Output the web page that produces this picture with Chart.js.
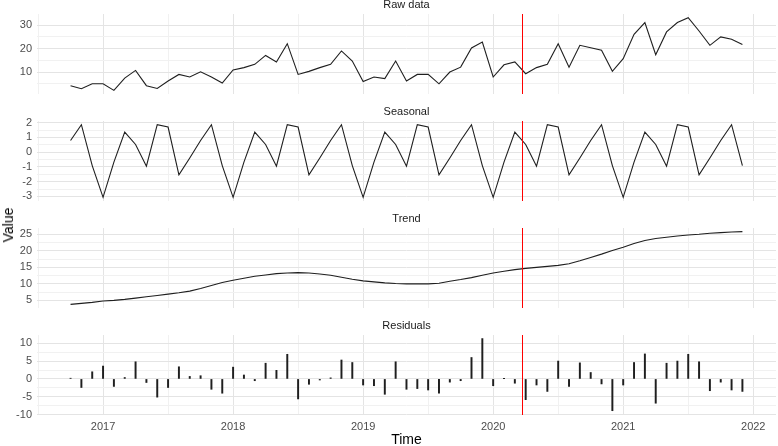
<!DOCTYPE html>
<html>
<head>
<meta charset="utf-8">
<script src="https://cdn.jsdelivr.net/npm/chart.js@4/dist/chart.umd.min.js"></script>
<style>
  html, body { margin: 0; padding: 0; background: #fff; overflow: hidden; width: 778px; height: 446px; }
  .panel { position: absolute; left: 0; width: 778px; }
  #ylab { position: absolute; left: 8px; top: 225px; transform: translate(-50%, -50%) rotate(-90deg);
          font: 14px "Liberation Sans", Arial, sans-serif; color: #000; white-space: nowrap; }
</style>
</head>
<body>
<div class="panel" style="top:-2px;height:96px"><canvas id="c1"></canvas></div>
<div class="panel" style="top:105px;height:96px"><canvas id="c2"></canvas></div>
<div class="panel" style="top:212px;height:96px"><canvas id="c3"></canvas></div>
<div class="panel" style="top:319px;height:129.4px"><canvas id="c4"></canvas></div>
<div id="ylab">Value</div>
<script>
// ---- Data (monthly, Oct 2016 .. Dec 2021) ----
const startYear = 2016;
const startMonth = 10;
const rawData = [4.2, 2.9, 5.0, 5.0, 2.2, 7.4, 10.7, 4.2, 3.0, 6.2, 9.0, 7.9,
  10.1, 7.9, 5.3, 10.9, 11.9, 13.3, 17.1, 14.3, 22.1, 9.0, 10.3, 11.9,
  13.3, 19.0, 14.7, 6.0, 7.9, 7.2, 14.7, 6.2, 9.0, 9.0, 5.0, 10.0,
  12.1, 20.3, 22.8, 7.9, 13.1, 14.3, 9.3, 11.9, 13.3, 22.1, 12.1, 21.4,
  20.4, 19.3, 10.3, 15.7, 26.1, 31.1, 17.4, 27.1, 31.1, 33.2, 27.5, 21.4,
  25.0, 24.0, 21.7];
const seasonalData = [0.79, 1.86, -0.91, -3.06, -0.68, 1.36, 0.52, -0.95, 1.86, 1.70, -1.54, -0.40,
  0.79, 1.86, -0.91, -3.06, -0.68, 1.36, 0.52, -0.95, 1.86, 1.70, -1.54, -0.40,
  0.79, 1.86, -0.91, -3.06, -0.68, 1.36, 0.52, -0.95, 1.86, 1.70, -1.54, -0.40,
  0.79, 1.86, -0.91, -3.06, -0.68, 1.36, 0.52, -0.95, 1.86, 1.70, -1.54, -0.40,
  0.79, 1.86, -0.91, -3.06, -0.68, 1.36, 0.52, -0.95, 1.86, 1.70, -1.54, -0.40,
  0.79, 1.86, -0.91];
const trendData = [3.8, 4.1, 4.4, 4.8, 5.0, 5.3, 5.7, 6.1, 6.5, 6.9, 7.3, 7.8,
  8.6, 9.5, 10.4, 11.1, 11.7, 12.3, 12.7, 13.1, 13.3, 13.4, 13.3, 13.0,
  12.6, 12.0, 11.4, 10.9, 10.6, 10.3, 10.1, 10.0, 10.0, 10.0, 10.2, 10.8,
  11.3, 11.9, 12.6, 13.3, 13.8, 14.3, 14.7, 15.0, 15.3, 15.6, 16.1, 17.0,
  18.0, 19.0, 20.1, 21.1, 22.2, 23.1, 23.7, 24.1, 24.5, 24.8, 25.0, 25.3,
  25.5, 25.7, 25.8];
const residualData = [0.2, -2.4, 2.0, 3.6, -2.1, 0.4, 4.8, -1.0, -5.1, -2.4, 3.4, 0.7,
  0.9, -2.9, -4.0, 3.3, 1.1, -0.5, 4.4, 2.4, 6.9, -5.6, -1.5, -0.3,
  0.3, 5.3, 4.6, -1.7, -1.9, -4.3, 4.8, -2.9, -2.7, -3.1, -4.0, -0.9,
  -0.5, 6.0, 11.3, -1.9, 0.1, -1.2, -5.8, -1.7, -3.5, 5.0, -2.1, 4.5,
  1.8, -1.4, -8.9, -1.7, 4.6, 7.0, -6.8, 4.4, 5.0, 6.9, 4.8, -3.3,
  -0.9, -3.1, -3.5];
const changePoint = 2020.22;

const panelTitles = ['Raw data', 'Seasonal', 'Trend', 'Residuals'];
const xMajorTicks = [2017, 2018, 2019, 2020, 2021, 2022];
const xMinorTicks = [2016.5, 2017.5, 2018.5, 2019.5, 2020.5, 2021.5];
const rawMajorTicks = [10, 20, 30];
const rawMinorTicks = [5, 15, 25];
const seasonalMajorTicks = [-3, -2, -1, 0, 1, 2];
const seasonalMinorTicks = [-2.5, -1.5, -0.5, 0.5, 1.5];
const trendMajorTicks = [5, 10, 15, 20, 25];
const trendMinorTicks = [7.5, 12.5, 17.5, 22.5];
const residualMajorTicks = [-10, -5, 0, 5, 10];
const residualMinorTicks = [-7.5, -2.5, 2.5, 7.5];

// time index of the monthly series
const times = rawData.map((_, i) => startYear + (startMonth - 1 + i) / 12);

const FONT = '"Liberation Sans", Arial, sans-serif';
const MAJOR = '#e4e4e4';
const MINOR = '#f1f1f1';
const X_MIN = 2016.492, X_MAX = 2022.175;

const changeLine = {
  id: 'changeLine',
  afterDatasetsDraw(chart) {
    const ctx = chart.ctx;
    const x = Math.round(chart.scales.x.getPixelForValue(changePoint)) + 0.5;
    const { top, bottom } = chart.chartArea;
    ctx.save();
    ctx.strokeStyle = '#ff0000';
    ctx.lineWidth = 1;
    ctx.beginPath();
    ctx.moveTo(x, top);
    ctx.lineTo(x, bottom);
    ctx.stroke();
    ctx.restore();
  }
};

function panel(id, type, values, title, yMin, yMax, yMajor, yMinor, isBottom) {
  const ySet = new Set(yMajor);
  const xSet = new Set(xMajorTicks);
  const yList = [...yMajor, ...yMinor].filter(v => v >= yMin && v <= yMax).sort((a, b) => a - b);
  const xList = [...xMajorTicks, ...xMinorTicks].filter(v => v >= X_MIN && v <= X_MAX).sort((a, b) => a - b);
  const pts = values.map((v, i) => ({ x: times[i], y: v }));
  const ds = type === 'line'
    ? { data: pts, borderColor: '#1f1f1f', borderWidth: 1.1, pointRadius: 0, tension: 0, fill: false }
    : { data: pts, backgroundColor: '#1f1f1f', borderWidth: 0, barThickness: 1.3 };
  new Chart(document.getElementById(id), {
    type,
    data: { datasets: [ds] },
    options: {
      responsive: true, maintainAspectRatio: false, animation: false,
      layout: { autoPadding: false, padding: { left: 0, right: 2, top: 0, bottom: 0 } },
      plugins: {
        legend: { display: false }, tooltip: { enabled: false },
        title: { display: true, text: title, fullSize: false, color: '#1a1a1a',
                 font: { family: FONT, size: 11, weight: 'normal' }, padding: { top: 0, bottom: 2.8 } }
      },
      scales: {
        x: {
          type: 'linear', min: X_MIN, max: X_MAX, offset: false,
          afterBuildTicks: s => { s.ticks = xList.map(v => ({ value: v })); },
          afterFit: s => { s.height = isBottom ? 33.4 : 0; s.paddingLeft = 0; s.paddingRight = 0; s.paddingTop = 0; s.paddingBottom = 0; },
          grid: { drawTicks: false, offset: false, lineWidth: 1,
                  color: c => (c.tick && xSet.has(c.tick.value)) ? MAJOR : MINOR },
          border: { display: false },
          ticks: { display: isBottom, autoSkip: false, maxRotation: 0, padding: 5, color: '#4d4d4d',
                   font: { family: FONT, size: 11 }, callback: v => xSet.has(v) ? String(v) : '' },
          title: { display: isBottom, text: 'Time', color: '#000', font: { family: FONT, size: 14 },
                   padding: { top: 0, bottom: 0 } }
        },
        y: {
          min: yMin, max: yMax,
          afterBuildTicks: s => { s.ticks = yList.map(v => ({ value: v })); },
          afterFit: s => { s.width = 37; s.paddingTop = 0; s.paddingBottom = 0; s.paddingLeft = 0; s.paddingRight = 0; },
          grid: { drawTicks: false, lineWidth: 1,
                  color: c => (c.tick && ySet.has(c.tick.value)) ? MAJOR : MINOR },
          border: { display: false },
          ticks: { autoSkip: false, padding: 5, color: '#4d4d4d', font: { family: FONT, size: 11 },
                   callback: v => ySet.has(v) ? String(v) : '' }
        }
      }
    },
    plugins: [changeLine]
  });
}

panel('c1', 'line', rawData, panelTitles[0], 0.65, 34.75, rawMajorTicks, rawMinorTicks, false);
panel('c2', 'line', seasonalData, panelTitles[1], -3.31, 2.11, seasonalMajorTicks, seasonalMinorTicks, false);
panel('c3', 'line', trendData, panelTitles[2], 2.7, 26.9, trendMajorTicks, trendMinorTicks, false);
panel('c4', 'bar', residualData, panelTitles[3], -10.1, 12.3, residualMajorTicks, residualMinorTicks, true);
</script>
</body>
</html>
